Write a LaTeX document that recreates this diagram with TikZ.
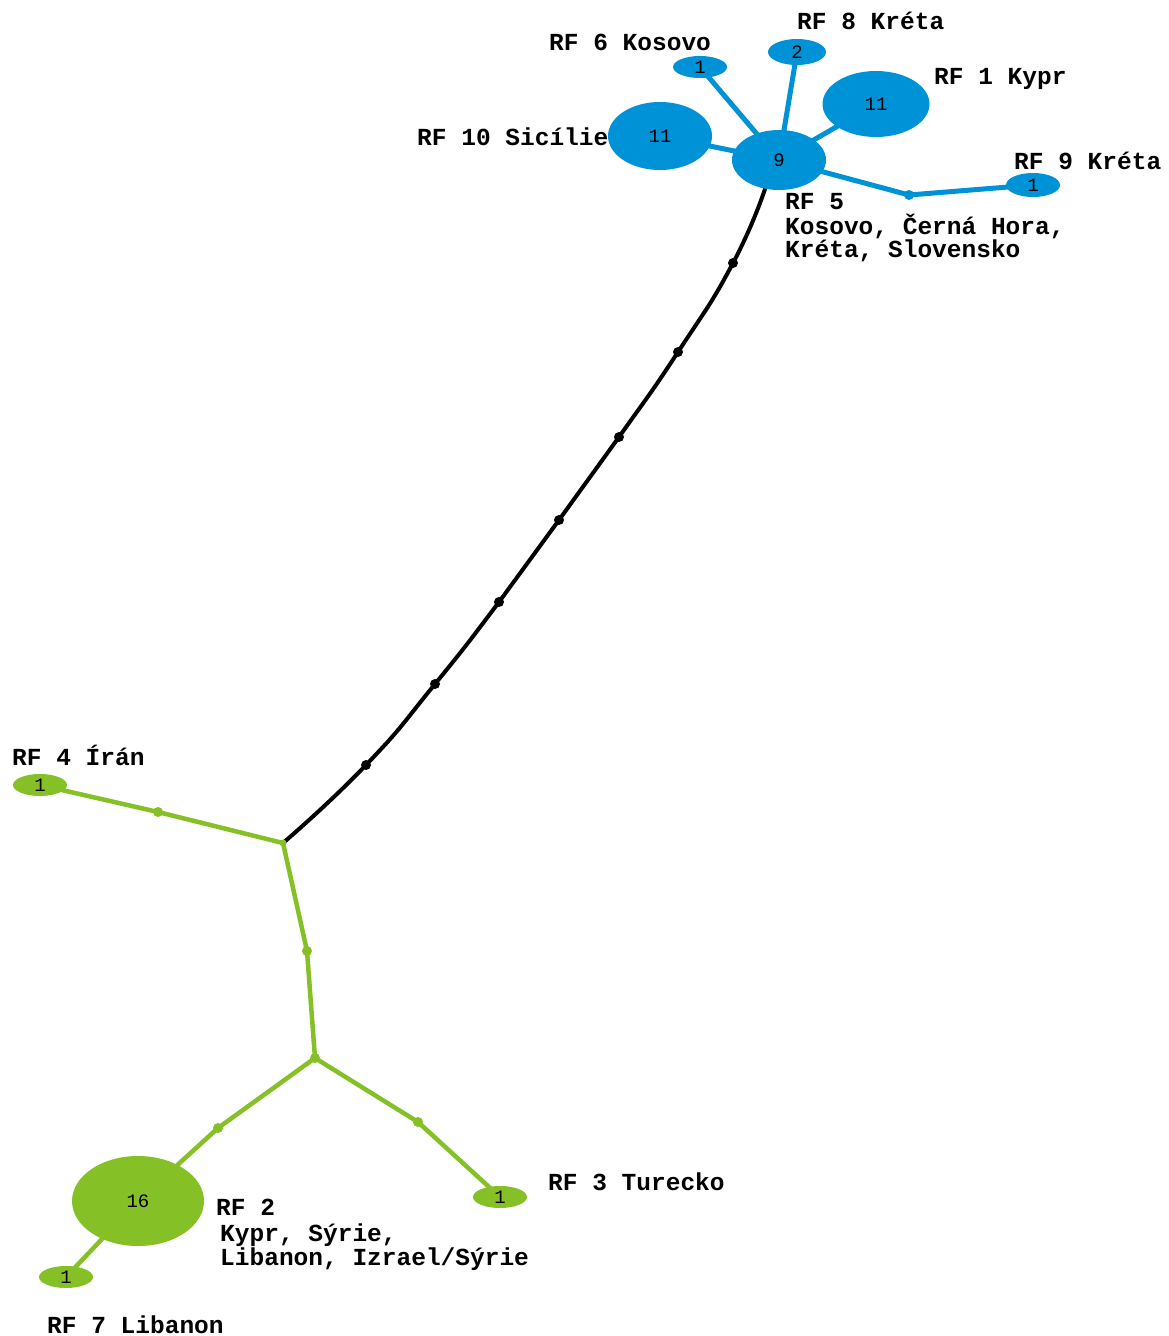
\documentclass[tikz,border=0pt]{standalone}
\usepackage{fontspec}
\setmonofont{Liberation Mono}
\usetikzlibrary{shapes.geometric}
\definecolor{hblue}{RGB}{0,146,214}
\definecolor{hgreen}{RGB}{132,192,38}
\tikzset{
  blob/.style={ellipse, inner sep=0pt, font=\fontsize{19}{19}\selectfont\ttfamily},
  bblob/.style={blob, fill=hblue},
  gblob/.style={blob, fill=hgreen},
  bedge/.style={draw=hblue, line width=5pt},
  gedge/.style={draw=hgreen, line width=4.5pt},
  kedge/.style={draw=black, line width=4pt},
  kdot/.style={circle, fill=black, inner sep=0pt, minimum size=10pt},
  gdot/.style={circle, fill=hgreen, inner sep=0pt, minimum size=10pt},
  bdot/.style={circle, fill=hblue, inner sep=0pt, minimum size=10pt},
  lab/.style={anchor=base west, inner sep=0pt, font=\fontsize{24.5}{22}\selectfont\ttfamily\bfseries, align=left},
}
\begin{document}
\begin{tikzpicture}[x=1pt,y=-1pt]
\useasboundingbox (0,0) rectangle (1169,1336);
% centres
\coordinate (c5) at (779,160);
\coordinate (c10) at (660,136);
\coordinate (c1) at (876,104);
\coordinate (c6) at (700,67);
\coordinate (c8) at (797,52);
\coordinate (c9) at (1033,185);
\coordinate (m9) at (909,195);
\coordinate (s5) at (766,186);
\coordinate (k1) at (733,263);
\coordinate (k2) at (678,352);
\coordinate (k3) at (619,437);
\coordinate (k4) at (559,520);
\coordinate (k5) at (499,602);
\coordinate (k6) at (435,684);
\coordinate (k7) at (366,765);
\coordinate (j1) at (283,843);
\coordinate (c4) at (40,785);
\coordinate (g4) at (158,812);
\coordinate (g0) at (307,951);
\coordinate (j2) at (315,1058);
\coordinate (g2) at (218,1128);
\coordinate (c2) at (138,1201);
\coordinate (g3) at (418,1122);
\coordinate (c3) at (500,1197);
\coordinate (c7) at (66,1277);
% edges
\draw[bedge] (c5) -- (c10);
\draw[bedge] (c5) -- (c1);
\draw[bedge] (c5) -- (c6);
\draw[bedge] (c5) -- (c8);
\draw[bedge] (c5) -- (m9) -- (c9);
\draw[kedge] plot[smooth, tension=0.9] coordinates {(s5) (k1) (k2) (k3) (k4) (k5) (k6) (k7) (j1)};
\draw[gedge] (j1) -- (g4) -- (c4);
\draw[gedge] (j1) -- (g0) -- (j2);
\draw[gedge] (j2) -- (g2) -- (c2);
\draw[gedge] (j2) -- (g3) -- (c3);
\draw[gedge] (c2) -- (c7);
% small dots
\foreach \k in {k1,k2,k3,k4,k5,k6,k7} \node[kdot] (d\k) at (\k) {};
\node[gdot] (dg4) at (g4) {};
\node[gdot] (dg0) at (g0) {};
\node[gdot] (dj2) at (j2) {};
\node[gdot] (dg2) at (g2) {};
\node[gdot] (dg3) at (g3) {};
\node[gdot, minimum size=7pt] (dj1) at (j1) {};
\node[bdot] (dm9) at (m9) {};
% haplotype nodes
\node[bblob, minimum width=94pt, minimum height=60pt] (rf5) at (c5) {9};
\node[bblob, minimum width=104pt, minimum height=68pt] (rf10) at (c10) {11};
\node[bblob, minimum width=107pt, minimum height=66pt] (rf1) at (c1) {11};
\node[bblob, minimum width=54pt, minimum height=22pt] (rf6) at (c6) {1};
\node[bblob, minimum width=58pt, minimum height=26pt] (rf8) at (c8) {2};
\node[bblob, minimum width=54pt, minimum height=24pt] (rf9) at (c9) {1};
\node[gblob, minimum width=54pt, minimum height=22pt] (rf4) at (c4) {1};
\node[gblob, minimum width=132pt, minimum height=90pt] (rf2) at (c2) {16};
\node[gblob, minimum width=54pt, minimum height=22pt] (rf3) at (c3) {1};
\node[gblob, minimum width=54pt, minimum height=22pt] (rf7) at (c7) {1};
% labels
\node[lab] (l8) at (797,29) {RF 8 Kréta};
\node[lab] (l6) at (549,50) {RF 6 Kosovo};
\node[lab] (l1) at (934,84) {RF 1 Kypr};
\node[lab] (l10) at (417,145) {RF 10 Sicílie};
\node[lab] (l9) at (1014,169) {RF 9 Kréta};
\node[lab] (l5) at (785,209) {RF 5};
\node[lab] (l5a) at (785,234) {Kosovo, Černá Hora,};
\node[lab] (l5b) at (785,257) {Kréta, Slovensko};
\node[lab] (l4) at (12,765) {RF 4 Írán};
\node[lab] (l3) at (548,1190) {RF 3 Turecko};
\node[lab] (l2) at (216,1215) {RF 2};
\node[lab] (l2a) at (220,1241) {Kypr, Sýrie,};
\node[lab] (l2b) at (220,1265) {Libanon, Izrael/Sýrie};
\node[lab] (l7) at (47,1333) {RF 7 Libanon};
\end{tikzpicture}
\end{document}
